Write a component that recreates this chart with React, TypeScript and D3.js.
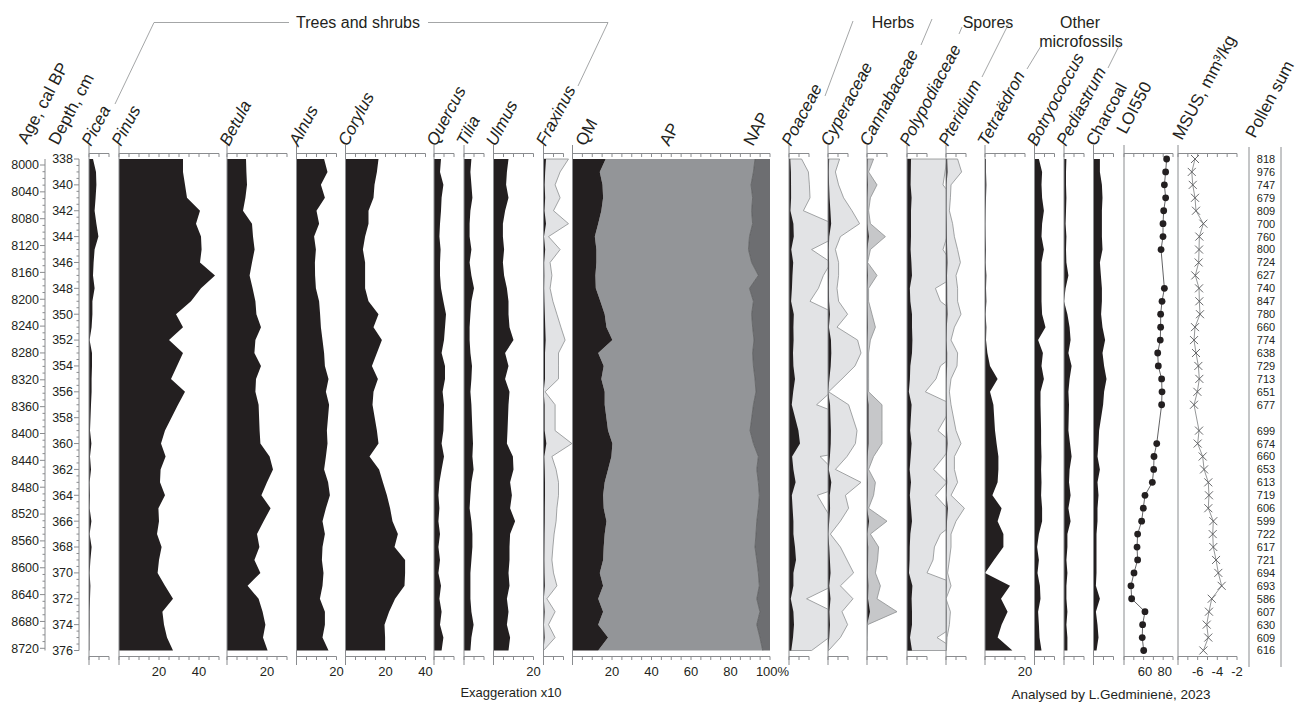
import React from 'react';
import * as d3 from 'd3';

// sample depths (cm) - no pollen sample at 358
const depths = [338, 339, 340, 341, 342, 343, 344, 345, 346, 347, 348, 349, 350, 351, 352, 353, 354, 355, 356, 357,
  359, 360, 361, 362, 363, 364, 365, 366, 367, 368, 369, 370, 371, 372, 373, 374, 375, 376];

// percentages
const picea = [2, 3.5, 3.7, 3.3, 2.8, 3.7, 4.7, 2.8, 2.3, 2, 2.8, 1.7, 1.7, 1.3, 0.3, 1.5, 1.5, 1.3, 1.3, 1,
  0.5, 1.2, 0.5, 1, 0.3, 0.5, 0.3, 1.2, 0.3, 1.3, 0.7, 0.3, 0.7, 0.5, 0.3, 0.3, 0.2, 0.2];
const pinus = [32, 32, 33, 34, 40.5, 38.5, 41, 41.3, 40.5, 48, 41, 36, 28.5, 32, 25, 32, 29, 26, 33, 29.5,
  23, 21, 23.3, 20.8, 20.5, 23, 19.7, 20, 19, 21.3, 20, 19.3, 23, 27, 21.7, 22.5, 24, 27];
const betula = [9.5, 9.7, 10, 9.2, 8, 12.5, 13, 13.8, 12.5, 11.3, 12.8, 14.2, 14.7, 17, 14.2, 13.7, 17, 14.5, 14.2, 15.8,
  16.3, 16.7, 21.3, 23, 20, 17.2, 21.8, 18.3, 15, 16.2, 13.7, 16.7, 10.3, 15.8, 17.8, 19.2, 18, 20.3];
const alnus = [13.8, 15.5, 12.2, 14.2, 10, 11.3, 8.8, 9.7, 9.2, 9.3, 9.7, 11.3, 11.8, 12.2, 13, 13.8, 14.2, 16, 14.7, 16.3,
  15.2, 15.5, 14.7, 13.8, 15.8, 16.7, 14.7, 13, 14.2, 13, 12.7, 13.5, 13, 11.7, 14.2, 14.2, 13, 16];
const corylus = [16.5, 15.7, 14.5, 14, 11.5, 11.5, 9.8, 8.7, 9.8, 9.8, 9.8, 11.5, 16.5, 14, 18.2, 15.7, 13.2, 16.2, 14, 13.5,
  15.7, 16.5, 12, 16.8, 18.7, 20.7, 22.3, 23.5, 26.2, 24.5, 29.8, 29.8, 29.5, 24.8, 21.8, 19.5, 19.8, 19.8];
const quercus = [3.5, 3, 4.7, 3.8, 3.5, 3, 2.7, 3.3, 3, 3, 3.5, 4.7, 6, 5.5, 5, 3.8, 5.5, 5.5, 4.3, 5,
  4.7, 3.8, 5, 3.8, 2.7, 2.2, 2.7, 2.2, 3, 2.2, 3, 2.2, 3.5, 2.7, 3.8, 3, 4.7, 3.8];
const tilia = [3.7, 3.2, 3.7, 4.2, 3.2, 2.8, 2.8, 3.7, 2.8, 3.7, 5, 3.7, 3.2, 2.8, 2.8, 3.2, 4, 3.7, 3.2, 3.7,
  4.2, 4.5, 4.2, 4.8, 3.7, 3.2, 2.8, 3.7, 4.2, 4.2, 3.7, 3.2, 3.2, 3.2, 3.7, 4.8, 3.7, 3.2];
const ulmus = [7.5, 6.7, 6.3, 7.5, 5.8, 4.7, 4.7, 5.3, 4.7, 5.3, 6.7, 7.5, 7.5, 8, 10, 5.8, 7.5, 5.8, 8, 7.5,
  7, 6.7, 9.7, 10, 8.3, 9.2, 8.3, 10.8, 8.3, 8, 8, 7.5, 8, 6.7, 7.5, 6.7, 8.3, 7.5];
const fraxinus = [1.25, 0.83, 0.58, 0.83, 0.5, 1.25, 0.25, 0.83, 0.33, 0.42, 0.33, 0.47, 0.67, 0.87, 1.08, 0.75, 0.75, 0.75, 0.08, 0.58,
  0.58, 1.42, 0.42, 0.63, 0.75, 0.75, 0.67, 0.63, 0.53, 0.47, 0.42, 0.5, 0.67, 0.17, 0.58, 0.25, 0.58, 0];
const qm = [16.8, 13.8, 15.2, 15.5, 14.6, 13, 11.3, 12.1, 12.1, 11.6, 11.8, 14.1, 16.3, 17.2, 20.2, 13, 15.8, 14.6, 16.3, 16.3,
  18, 20.2, 19.7, 18, 16.3, 15.5, 15.8, 17.2, 16.3, 15.8, 15.5, 13.8, 15.5, 13, 15.5, 13, 18, 13];
const nap = [7.6, 8.4, 9.6, 8.8, 9.3, 8.8, 10.4, 10.9, 9.3, 5.9, 10.4, 8.4, 9.3, 8.8, 8.1, 8.8, 8.4, 7.6, 7.1, 8.4,
  10.1, 8.4, 5.9, 6.7, 5.9, 5.4, 5.9, 6.7, 7.1, 7.6, 6.7, 5.9, 5.4, 6.7, 5.1, 6.7, 5.1, 3.7];
const poaceae = [0.63, 0.97, 1.02, 1.05, 0.72, 2.2, 2.4, 1.13, 2.1, 1.72, 1.47, 1.05, 2.4, 2.2, 2.3, 2.0, 2.2, 3.0, 2.1, 1.38,
  4.7, 5.5, 1.55, 2.2, 3.3, 1.42, 1.8, 2.2, 2.2, 3.0, 3.5, 2.2, 2.2, 0.88, 2.2, 2.5, 2.0, 1.13];
const cyperaceae = [0.58, 0.37, 0.53, 0.78, 1.2, 1.58, 0.62, 0.37, 0.53, 0.53, 0.45, 0.53, 0.98, 0.45, 1.48, 1.65, 1.35, 0.7, 0.03, 1.03,
  1.45, 1.37, 0.95, 0.37, 1.65, 0.87, 1.03, 0.62, 0.12, 0.62, 0.95, 1.28, 0.62, 1.25, 0.7, 0.98, 0.62, 0.03];
const cannabaceae = [0.33, 0.08, 0.5, 0.17, 0.08, 0.17, 0.92, 0.17, 0.03, 0.5, 0.08, 0.08, 0.25, 0.42, 0.17, 0.08, 0.08, 0.08, 0.08, 0.75,
  0.75, 0.75, 0.33, 0.08, 0.42, 0.33, 0.08, 1.0, 0.17, 0.58, 0.53, 0.42, 0.67, 0.5, 1.5, 0.03, 0, 0];
const polypodiaceae = [2.0, 1.9, 1.8, 2.3, 2.0, 2.0, 2.0, 1.8, 2.2, 2.5, 1.42, 1.67, 2.5, 2.5, 2.7, 2.5, 1.67, 1.45, 0.92, 2.3,
  1.55, 2.3, 1.85, 1.33, 2.0, 1.42, 2.0, 2.5, 1.67, 1.37, 1.3, 1.0, 2.7, 2.3, 2.5, 2.5, 1.5, 2.5];
const pteridium = [0.58, 0.78, 0.25, 0.22, 0.17, 0.33, 0.42, 0.58, 0.72, 0.5, 0.58, 0.58, 0.75, 0.42, 0.25, 0.58, 0.55, 0.25, 0.17, 0.25,
  0.5, 0.75, 0.42, 0.42, 0.58, 0.25, 0.92, 0.5, 0.25, 0.25, 0.17, 0.08, 0.25, 0, 0.22, 0.17, 0.05, 0.02];
const tetraedron = [0.5, 0.5, 0.7, 0.5, 0.3, 0.2, 0.3, 0.5, 0.3, 0.7, 0.5, 0.7, 0.3, 0.7, 0.5, 1.2, 2.5, 6.3, 2.5, 4.2,
  5, 5.8, 6.7, 6.7, 6.3, 3.7, 8.3, 6.3, 9.2, 9.2, 4.5, 0, 12.5, 8, 11.3, 8.3, 6.3, 13.7];
const botryococcus = [2.2, 3.8, 3.5, 3.8, 4.7, 3.8, 3.5, 4.7, 3.5, 3.5, 3.5, 3.5, 3.8, 5.5, 1.8, 4.2, 3.5, 4.7, 3, 3,
  3.3, 3.3, 3.5, 3.3, 3.5, 3.3, 3.8, 3.8, 2.2, 1.3, 2.2, 1.5, 2.7, 3, 1.8, 2.2, 2.5, 3.5];
const pediastrum = [1.2, 1, 1, 1.2, 1, 0.8, 1.2, 1, 1.2, 2.2, 0.8, 0, 1.7, 2.8, 3.3, 2.2, 3.8, 2.8, 2.2, 2.5,
  2.2, 3, 3.8, 2.8, 2.5, 3.3, 2.2, 3.3, 1.7, 1.7, 1.2, 1.7, 1.2, 1.2, 1.7, 1.2, 1.7, 1.7];
const charcoal = [3.2, 3.2, 4.2, 4.5, 4.2, 4.2, 4.2, 4.5, 3.2, 3.7, 4.2, 4.2, 3.8, 4.5, 5.8, 4.5, 5.3, 6.5, 5.3, 4.8,
  2.8, 2.5, 2, 3.2, 2, 2.5, 2, 2, 1.5, 1.5, 1.5, 1.5, 1.2, 3.2, 1.2, 2, 2.5, 1.5];

// LOI550 (%), null = not measured
const loi = [83.5, 82.5, 81.2, 82.5, 80.5, 79.8, 79.8, 77.8, null, null, 81.2, 78.8, 77.4, 77.4, 77, 74.4, 75, 78.4, 78.8, 78.4,
  null, 73.4, 70.6, 70.3, 68.9, 61.4, 59.7, 58, 53.9, 53.3, 53.9, 50.2, 47.1, 47.8, 61.4, 59, 58.6, 60.1];
// MSUS as plotted on its axis
const msus = [-6.27, -6.6, -6.5, -6.27, -6.17, -5.42, -5.83, -5.86, -5.9, -6.24, -5.86, -5.83, -5.76, -6.27, -6.37, -6.17, -5.93, -5.83, -6.03, -6.37,
  -5.86, -6, -5.49, -5.35, -4.92, -4.85, -4.92, -4.41, -4.47, -4.41, -4.13, -3.9, -3.56, -4.57, -4.85, -5.08, -4.92, -5.42];
const pollenSum = [818, 976, 747, 679, 809, 700, 760, 800, 724, 627, 740, 847, 780, 660, 774, 638, 729, 713, 651, 677,
  699, 674, 660, 653, 613, 719, 606, 599, 722, 617, 721, 694, 693, 586, 607, 630, 609, 616];

const ageTicks = d3.range(8000, 8721, 40);
const depthTicks = d3.range(338, 377, 2);

const FONT = 'Liberation Sans, Arial, Helvetica, sans-serif';
const BLACK = '#231f20';
const AXIS = '#8a8c8f';
const LIGHT = '#e2e3e5';
const MID = '#c6c7c9';

const yTop = 159, yBot = 650.5;
const axTop = 153.5, axBot = 656.5;
const lnTop = 145, lnBot = 665;
const PX = 2; // px per percent

const y = d3.scaleLinear().domain([338, 376]).range([yTop, yBot]);
const ageY = d3.scaleLinear().domain([8000, 8720]).range([165, 648.3]);

// pollen panels: name, values, left x, axis max, labels, exaggeration, clip width
const panels = [
  { name: 'Picea', v: picea, x0: 89, max: 10, labels: [] },
  { name: 'Pinus', v: pinus, x0: 119, max: 50, labels: [20, 40] },
  { name: 'Betula', v: betula, x0: 227, max: 30, labels: [20] },
  { name: 'Alnus', v: alnus, x0: 296.5, max: 20, labels: [20] },
  { name: 'Corylus', v: corylus, x0: 345.5, max: 40, labels: [20, 40] },
  { name: 'Quercus', v: quercus, x0: 434, max: 10, labels: [] },
  { name: 'Tilia', v: tilia, x0: 464, max: 10, labels: [] },
  { name: 'Ulmus', v: ulmus, x0: 493.5, max: 20, labels: [20] },
  { name: 'Fraxinus', v: fraxinus, x0: 543.5, max: 10, labels: [], exag: LIGHT, clip: 29 },
  { name: 'Poaceae', v: poaceae, x0: 789, max: 10, labels: [], exag: LIGHT, clip: 39 },
  { name: 'Cyperaceae', v: cyperaceae, x0: 828, max: 10, labels: [], exag: LIGHT, clip: 39 },
  { name: 'Cannabaceae', v: cannabaceae, x0: 867, max: 10, labels: [], exag: MID, clip: 40 },
  { name: 'Polypodiaceae', v: polypodiaceae, x0: 907, max: 10, labels: [], exag: LIGHT, clip: 39 },
  { name: 'Pteridium', v: pteridium, x0: 946, max: 10, labels: [], exag: LIGHT, clip: 39 },
  { name: 'Tetraëdron', v: tetraedron, x0: 985, max: 20, labels: [20] },
  { name: 'Botryococcus', v: botryococcus, x0: 1034.5, max: 10, labels: [] },
  { name: 'Pediastrum', v: pediastrum, x0: 1064, max: 10, labels: [] },
  { name: 'Charcoal', v: charcoal, x0: 1093.5, max: 10, labels: [], roman: true },
];

const rows = (vals) => depths.map((d, i) => ({ d, v: vals[i] }));

function ScaleAxis({ x, ticks, labels, fmt, dx = 0 }) {
  const [a, b] = x.range();
  return (
    <g stroke={AXIS} strokeWidth={1}>
      {[axTop, axBot].map(yy => (
        <g key={yy}>
          <line x1={a} x2={b} y1={yy} y2={yy} />
          {ticks.map(t => <line key={t} x1={x(t)} x2={x(t)} y1={yy} y2={yy + 3.5} />)}
        </g>
      ))}
      <line x1={a} x2={a} y1={lnTop} y2={lnBot} />
      {labels.map(t => (
        <text key={t} x={x(t) + (t === 100 ? 2.5 : dx)} y={676} textAnchor="middle" stroke="none"
          fill={BLACK} fontSize={13}>{fmt ? fmt(t) : t}</text>
      ))}
    </g>
  );
}

function PollenPanel({ p }) {
  const x = d3.scaleLinear().domain([0, p.max]).range([p.x0, p.x0 + p.max * PX]);
  const data = rows(p.v);
  const area = (k) => d3.area().y(r => y(r.d)).x0(x(0)).x1(r => x(r.v * k))(data);
  const id = 'clip-' + p.name;
  return (
    <g>
      {p.exag && (
        <g>
          <clipPath id={id}><rect x={p.x0} y={yTop - 1} width={p.clip} height={yBot - yTop + 2} /></clipPath>
          <path d={area(10)} fill={p.exag} stroke="#8d8f91" strokeWidth={0.8} clipPath={`url(#${id})`} />
        </g>
      )}
      <path d={area(1)} fill={BLACK} />
      <ScaleAxis x={x} ticks={d3.range(0, p.max + 0.1, 5)} labels={p.labels} />
    </g>
  );
}

function SumPanel() {
  const x = d3.scaleLinear().domain([0, 100]).range([572.5, 770]);
  const data = depths.map((d, i) => ({ d, qm: qm[i], ap: 100 - nap[i] }));
  const qmArea = d3.area().y(r => y(r.d)).x0(x(0)).x1(r => x(r.qm))(data);
  const apArea = d3.area().y(r => y(r.d)).x0(r => x(r.qm)).x1(r => x(r.ap))(data);
  const napArea = d3.area().y(r => y(r.d)).x0(r => x(r.ap)).x1(x(100))(data);
  const edge = d3.line().y(r => y(r.d)).x(r => x(r.ap))(data);
  return (
    <g>
      <path d={apArea} fill="#939598" />
      <path d={napArea} fill="#6d6e71" />
      <path d={edge} fill="none" stroke="#555658" strokeWidth={0.7} />
      <path d={qmArea} fill={BLACK} />
      <ScaleAxis x={x} ticks={d3.range(0, 101, 5)} labels={[20, 40, 60, 80, 100]} fmt={t => (t === 100 ? '100%' : t)} />
    </g>
  );
}

function LoiPanel() {
  const x = d3.scaleLinear().domain([40, 90]).range([1124, 1173]);
  const pts = depths.map((d, i) => ({ d, v: loi[i] })).filter(r => r.v != null);
  const path = d3.line().x(r => x(r.v)).y(r => y(r.d))(pts);
  return (
    <g>
      <ScaleAxis x={x} ticks={d3.range(40, 91, 10)} labels={[60, 80]} dx={1.5} />
      <path d={path} fill="none" stroke="#3a3a3c" strokeWidth={0.8} />
      {pts.map(r => <circle key={r.d} cx={x(r.v)} cy={y(r.d)} r={3.4} fill={BLACK} />)}
    </g>
  );
}

function MsusPanel() {
  const x = d3.scaleLinear().domain([-8, -2]).range([1178, 1237]);
  const pts = depths.map((d, i) => ({ d, v: msus[i] }));
  const path = d3.line().x(r => x(r.v)).y(r => y(r.d))(pts);
  const s = 4;
  return (
    <g>
      <ScaleAxis x={x} ticks={d3.range(-8, -1.9, 1)} labels={[-6, -4, -2]} />
      <path d={path} fill="none" stroke="#7a7c7e" strokeWidth={0.8} />
      {pts.map(r => {
        const cx = x(r.v), cy = y(r.d);
        return (
          <g key={r.d} stroke="#58595b" strokeWidth={0.9}>
            <line x1={cx - s} x2={cx + s} y1={cy - s} y2={cy + s} />
            <line x1={cx - s} x2={cx + s} y1={cy + s} y2={cy - s} />
          </g>
        );
      })}
    </g>
  );
}

function LeftAxes() {
  const minorAge = d3.range(8000, 8721, 10);
  const minorDepth = d3.range(338, 376.01, 0.5);
  return (
    <g fontSize={12.5} fill={BLACK}>
      <g stroke={AXIS}>
        <line x1={45} x2={45} y1={yTop} y2={yBot} />
        {minorAge.map(t => <line key={t} x1={t % 40 === 0 ? 40 : 42.5} x2={45} y1={ageY(t)} y2={ageY(t)} />)}
        <line x1={79} x2={79} y1={yTop} y2={yBot} />
        {minorDepth.map(t => <line key={t} x1={t % 2 === 0 ? 74 : 76.5} x2={79} y1={y(t)} y2={y(t)} />)}
      </g>
      {ageTicks.map(t => <text key={t} x={39} y={ageY(t)} dy="0.35em" textAnchor="end">{t}</text>)}
      {depthTicks.map(t => <text key={t} x={73} y={y(t)} dy="0.35em" textAnchor="end">{t}</text>)}
    </g>
  );
}

const headers = [
  { t: 'Age, cal BP', x: 27, y: 145 },
  { t: 'Depth, cm', x: 58, y: 146 },
  ...panels.map(p => ({ t: p.name, x: p.x0 + 2, y: 147, it: !p.roman })),
  { t: 'QM', x: 585, y: 147 },
  { t: 'AP', x: 669, y: 147 },
  { t: 'NAP', x: 753, y: 147 },
  { t: 'LOI550', x: 1126, y: 135 },
  { t: 'MSUS, mm³/kg', x: 1182, y: 141 },
  { t: 'Pollen sum', x: 1255, y: 139 },
];

const LEAD = '#8d8f91';

export default function App() {
  return (
    <div>
      <style>{'body{margin:0;overflow:hidden;background:#fff}'}</style>
      <svg width={1299} height={702} fontFamily={FONT} style={{ display: 'block' }}>
        <rect width={1299} height={702} fill="#fff" />

        {/* group headings */}
        <g fontSize={16} fill={BLACK} textAnchor="middle">
          <text x={358} y={28}>Trees and shrubs</text>
          <text x={893} y={28}>Herbs</text>
          <text x={988} y={28}>Spores</text>
          <text x={1080} y={28}>Other</text>
          <text x={1081} y={47}>microfossils</text>
        </g>
        <g fill="none" stroke={LEAD} strokeWidth={0.8}>
          <polyline points="289,22.5 154,22.5 115,104" />
          <polyline points="428,22.5 608,22.5 578,86" />
          <line x1={853} y1={21} x2={825} y2={96} />
          <line x1={932} y1={19} x2={921} y2={45} />
          <line x1={962} y1={27} x2={959} y2={34} />
          <line x1={1009} y1={23} x2={982} y2={77} />
          <line x1={1041} y1={46} x2={1027} y2={69} />
          <line x1={1121} y1={42} x2={1108} y2={68} />
        </g>

        {/* column headings */}
        <g fontSize={17} fill={BLACK}>
          {headers.map(h => (
            <text key={h.t} transform={`translate(${h.x},${h.y}) rotate(-62)`} fontStyle={h.it ? 'italic' : 'normal'}>{h.t}</text>
          ))}
        </g>

        <LeftAxes />
        {panels.filter(p => p.exag).map(p => <PollenPanel key={p.name} p={p} />)}
        {panels.filter(p => !p.exag).map(p => <PollenPanel key={p.name} p={p} />)}
        <SumPanel />
        <LoiPanel />
        <MsusPanel />

        {/* pollen sum column */}
        <g stroke={AXIS}>
          <line x1={1249} x2={1249} y1={147} y2={667} />
          <line x1={1281} x2={1281} y1={147} y2={667} />
        </g>
        <g fontSize={11} fill={BLACK} textAnchor="middle">
          {pollenSum.map((s, i) => <text key={i} x={1266} y={y(depths[i])} dy="0.36em">{s}</text>)}
        </g>

        <text x={511} y={697} fontSize={13} textAnchor="middle" fill={BLACK}>Exaggeration x10</text>
        <text x={1111} y={699} fontSize={13.5} textAnchor="middle" fill={BLACK}>Analysed by L.Gedminienė, 2023</text>
      </svg>
    </div>
  );
}
